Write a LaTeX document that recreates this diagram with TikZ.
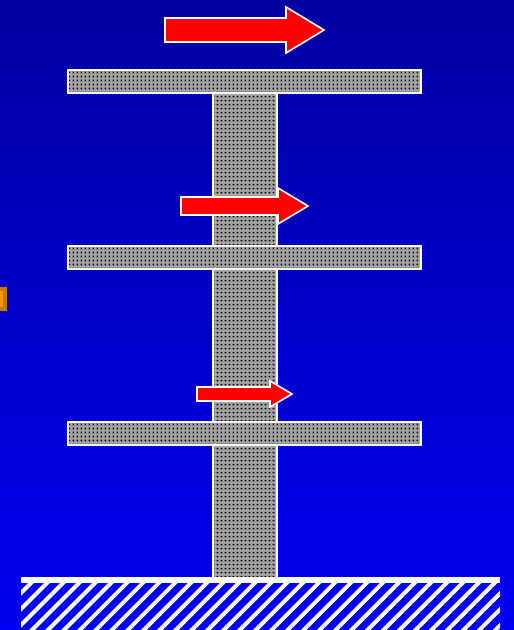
\documentclass[tikz,border=0pt]{standalone}
\usetikzlibrary{patterns,patterns.meta}
\definecolor{bgtop}{RGB}{0,0,160}
\definecolor{bgbot}{RGB}{0,0,242}
\definecolor{steelgray}{RGB}{165,165,165}
\definecolor{arrowred}{RGB}{255,0,0}
\definecolor{boxorange}{RGB}{200,120,0}
\definecolor{boxlight}{RGB}{255,153,0}
\tikzdeclarepattern{
  name=squaredots,
  type=uncolored,
  bounding box={(0,0) and (4pt,4pt)},
  tile size={(4pt,4pt)},
  code={\fill (0.8pt,0.8pt) rectangle (2.8pt,2.8pt);}
}
\tikzset{
  member/.style={draw=white, line width=1.6pt, preaction={fill=steelgray}, pattern=squaredots, pattern color=black},
  force/.style={draw=white, line width=1.6pt, fill=arrowred, line join=miter},
}
\begin{document}
\begin{tikzpicture}[x=1pt,y=-1pt]
\useasboundingbox (0,0) rectangle (514,630);
\shade[top color=bgtop, bottom color=bgbot] (0,0) rectangle (514,630);
% orange tab at left
\fill[boxorange] (0,287) rectangle (7,311);
\fill[boxlight] (0,291) rectangle (3,307);
% ground
\fill[bgbot] (21,583) rectangle (500,630);
\fill[pattern={Lines[angle=45,distance=11.3pt,line width=4pt]}, pattern color=white] (21,583) rectangle (500,630);
\fill[white] (21,577) rectangle (500,583);
% column
\path[member] (213,92) rectangle (277,578);
% plates
\path[member] (68,70) rectangle (421,93);
\path[member] (68,246) rectangle (421,269);
\path[member] (68,422) rectangle (421,445);
% force arrows
\draw[force] (165,18) -- (286,18) -- (286,7) -- (324,30) -- (286,53) -- (286,42) -- (165,42) -- cycle;
\draw[force] (181,197) -- (278,197) -- (278,188) -- (308,206) -- (278,224) -- (278,215) -- (181,215) -- cycle;
\draw[force] (197,387) -- (270,387) -- (270,381) -- (292,394) -- (270,407) -- (270,401) -- (197,401) -- cycle;
\end{tikzpicture}
\end{document}
